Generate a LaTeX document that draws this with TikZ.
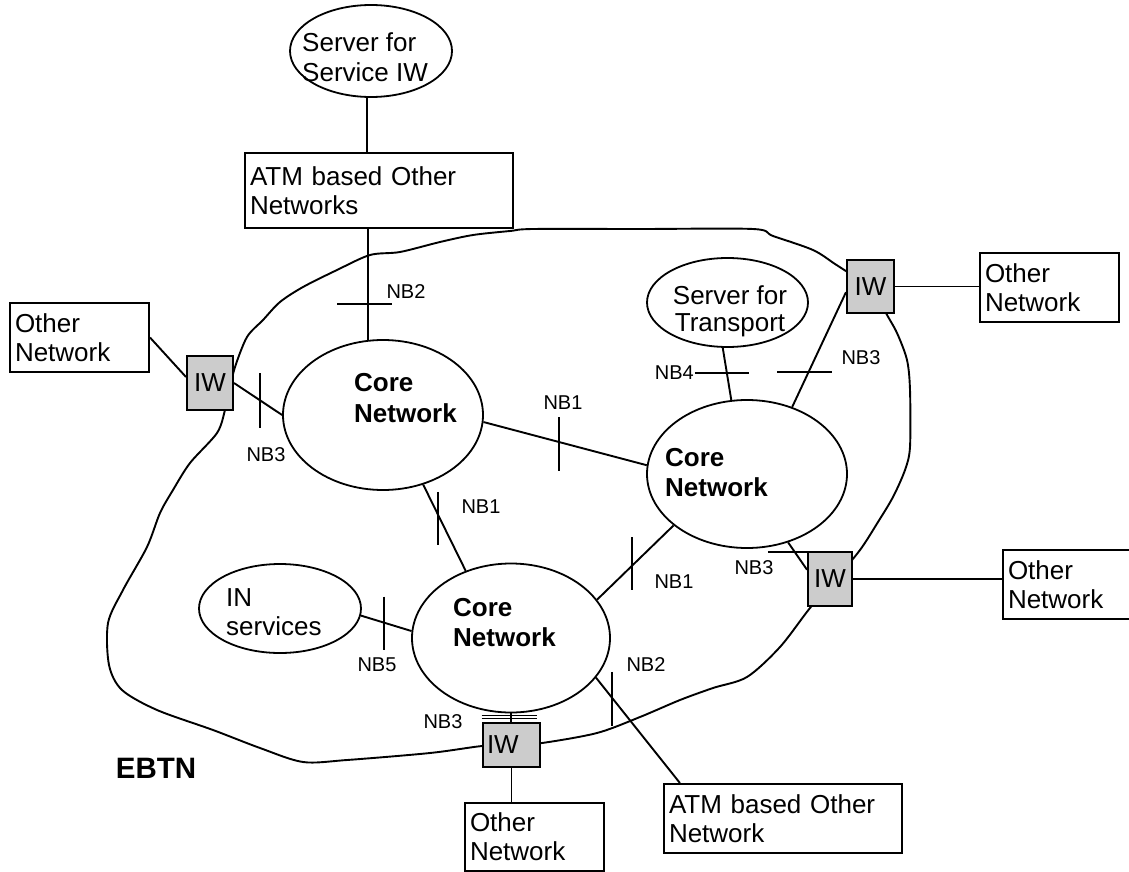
\documentclass[tikz,border=0pt]{standalone}
\usepackage{fontspec}
\setmainfont{Liberation Sans}
\usetikzlibrary{shapes.geometric,calc}
\definecolor{iwgray}{RGB}{204,204,204}
\begin{document}
\begin{tikzpicture}[x=1pt,y=-1pt,
  every node/.style={inner sep=0pt},
  ell/.style={draw, ellipse, line width=1.8pt},
  netbox/.style={draw, rectangle, line width=2pt, align=left, inner xsep=5pt, inner ysep=0pt, font=\fontsize{26}{29}\selectfont},
  iwbox/.style={draw, rectangle, fill=iwgray, line width=2pt, font=\fontsize{26}{29}\selectfont},
  bigtxt/.style={font=\fontsize{26}{29}\selectfont, align=left, anchor=north west},
  coretxt/.style={font=\fontsize{26}{31}\selectfont\bfseries, align=left, anchor=north west},
  nblabel/.style={font=\fontsize{20}{22}\selectfont},
  conn/.style={line width=1.9pt},
  nbtick/.style={line width=1.9pt},
  cloudline/.style={line width=1.9pt}
]
\useasboundingbox (0,0) rectangle (1129,872);

% EBTN cloud
\draw[cloudline] plot[smooth cycle, tension=0.5] coordinates {
 (533,229) (640,229) (753,229) (773,236) (813,250) (835,264) (852,275) (875,290)
 (886,313) (897,333) (907,360) (910,390) (910,447) (905,470) (893,497) (878,522)
 (860,550) (835,580) (810,608) (780,647) (747,677) (713,688) (680,700) (640,717)
 (597,733) (542,743) (511,745) (482,746) (430,753) (347,760) (303,762) (260,748)
 (213,730) (157,710) (122,690) (109,665) (108,623) (123,590) (147,547) (160,513)
 (173,490) (190,463) (217,433) (225,410) (230,388) (235,367) (247,337) (263,320)
 (280,302) (303,287) (337,270) (370,255) (400,252) (440,242) (473,235) (510,231)};

% ellipses
\node[ell, minimum width=162pt, minimum height=92pt] (s1) at (371,51) {};
\node[bigtxt, font=\fontsize{26}{30}\selectfont] (s1t) at (302,32) {Server for\\Service IW};
\node[ell, minimum width=200pt, minimum height=150pt] (c1) at (383,415) {};
\node[coretxt] (c1t) at (354,373) {Core\\Network};
\node[ell, minimum width=200pt, minimum height=148pt] (c2) at (747,474) {};
\node[coretxt, font=\fontsize{26}{30}\selectfont\bfseries] (c2t) at (665,448) {Core\\Network};
\node[ell, minimum width=198pt, minimum height=149pt] (c3) at (511,638) {};
\node[coretxt, font=\fontsize{26}{30}\selectfont\bfseries] (c3t) at (453,598) {Core\\Network};
\node[ell, minimum width=161pt, minimum height=89pt] (st) at (727.5,302.5) {};
\node[font=\fontsize{26}{27}\selectfont, align=center, anchor=north] (stt) at (730,285) {Server for\\Transport};
\node[ell, minimum width=162pt, minimum height=89pt] (ins) at (280,608.5) {};
\node[bigtxt] (inst) at (226,588) {IN\\services};

% boxes
\node[netbox, text width=258pt, minimum height=75pt] (atm1) at (379,190.5) {ATM based Other\\Networks};
\node[netbox, text width=129pt, minimum height=69pt] (onl) at (79.5,337.5) {Other\\Network};
\node[netbox, text width=129pt, minimum height=69pt] (ontr) at (1049.5,287.5) {Other\\Network};
\node[netbox, text width=117pt, minimum height=69pt] (onr) at (1066.5,584.5) {Other\\Network};
\node[netbox, text width=129pt, minimum height=68pt] (onb) at (534.5,837) {Other\\Network};
\node[netbox, text width=228pt, minimum height=69pt] (atm2) at (783,818.5) {ATM based Other\\Network};

% IW boxes
\node[iwbox, minimum width=46pt, minimum height=54pt] (iwl) at (210,383) {IW};
\node[iwbox, minimum width=47pt, minimum height=53pt] (iwtr) at (870.5,286.5) {IW};
\node[iwbox, minimum width=44pt, minimum height=54pt] (iwr) at (830,579) {IW};
\node[iwbox, minimum width=57pt, minimum height=44pt, text width=49pt, align=left, inner xsep=4pt] (iwb) at (511.5,745) {IW};

% connectors
\draw[conn] (s1.-95) -- (s1.-95 |- atm1.north);
\draw[conn] (atm1.south -| c1.101) -- coordinate[pos=0.68] (k1) (c1.101);
\draw[nbtick] (k1) ++(-31,0) -- ++(55,0);

\draw[conn] (onl.east) -- ([yshift=6pt]iwl.west);
\draw[conn] (iwl.east) -- coordinate[pos=0.54] (k2) (c1.180);
\draw[nbtick] (k2) ++(0,-27) -- ++(0,55);

\draw[conn] (c1.-4) -- coordinate[pos=0.465] (k3) (c2.175);
\draw[nbtick] (k3) ++(0,-25) -- ++(0,54);

\draw[conn] (c1.-60.7) -- coordinate[pos=0.34] (k4) (c3.124);
\draw[nbtick] (k4) ++(0,-22) -- ++(0,53);

\draw[conn] (st.-96) -- coordinate[pos=0.48] (k5) (c2.102);
\draw[nbtick] (k5) ++(-32,0) -- ++(54,0);

\draw[conn] (iwtr.193) -- coordinate[pos=0.698] (k6) (c2.56);
\draw[nbtick] (k6) ++(-31,0) -- ++(55,0);

\draw[conn] (iwtr.east) -- (iwtr.east -| ontr.west);

\draw[conn] (c2.-59) -- coordinate[pos=0.357] (k7) (iwr.158);
\draw[nbtick] (k7) ++(-27,0) -- ++(52,0);

\draw[conn] (iwr.east) -- (iwr.east -| onr.west);

\draw[conn] (c2.215) -- coordinate[pos=0.539] (k8) (c3.24.6);
\draw[nbtick] (k8) ++(0,-28) -- ++(0,53);

\draw[conn] (c3.-25.4) -- coordinate[pos=0.193] (k9) (atm2.161.65);
\draw[nbtick] (k9) ++(0,-26) -- ++(0,54);

\draw[conn] (ins.-5.4) -- coordinate[pos=0.46] (k10) (c3.176);
\draw[nbtick] (k10) ++(0,-26) -- ++(0,53);

\draw[conn] (c3.south) -- coordinate[pos=0.4] (k11) (c3.south |- iwb.north);
\draw[line width=1.1pt] (k11) ++(-29.5,-1.7) -- ++(55,0);
\draw[line width=1.1pt] (k11) ++(-29.5,1.7) -- ++(55,0);

\draw[conn] (iwb.south) -- (iwb.south |- onb.north);

% labels
\node[nblabel] (nb2a) at (406,292) {NB2};
\node[nblabel] (nb3a) at (266,455) {NB3};
\node[nblabel] (nb1a) at (563,403) {NB1};
\node[nblabel] (nb1b) at (481,507) {NB1};
\node[nblabel, anchor=east] (nb4) at (694,373) {NB4};
\node[nblabel] (nb3b) at (861,358) {NB3};
\node[nblabel] (nb3c) at (754,568) {NB3};
\node[nblabel] (nb1c) at (674,582) {NB1};
\node[nblabel] (nb2b) at (646,665) {NB2};
\node[nblabel] (nb5) at (377,665) {NB5};
\node[nblabel] (nb3d) at (443,722) {NB3};
\node[font=\fontsize{29.5}{32}\selectfont\bfseries] (ebtn) at (156,768.5) {EBTN};
\end{tikzpicture}
\end{document}
